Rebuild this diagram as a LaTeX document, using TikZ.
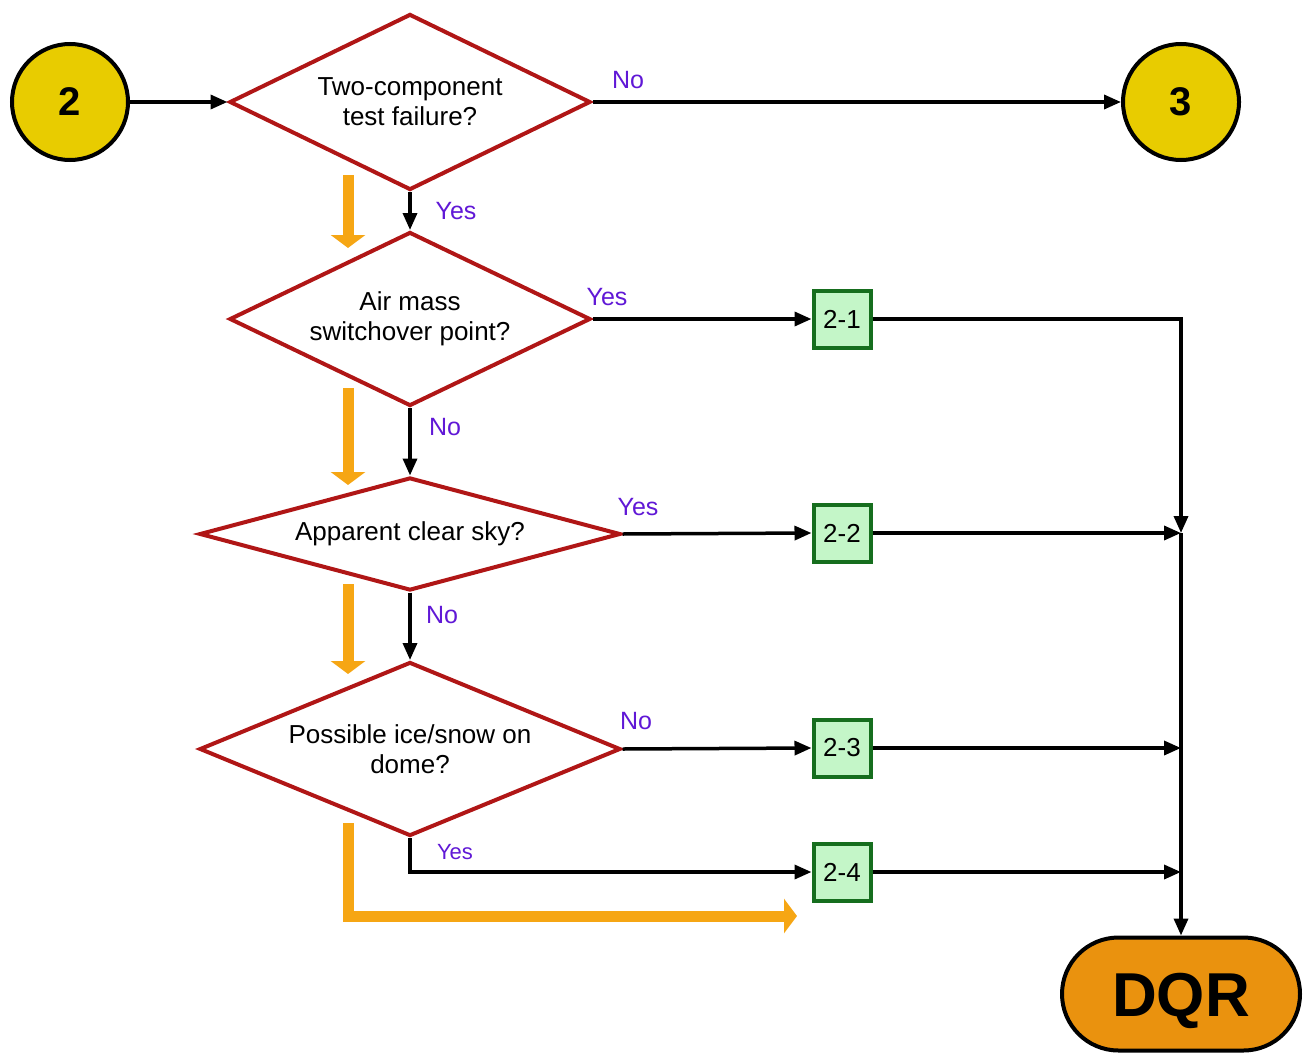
\documentclass[tikz,border=0pt]{standalone}
\usepackage{fontspec}
\setmainfont{Liberation Sans}
\usetikzlibrary{shapes.geometric,shapes.misc,arrows.meta}
\definecolor{dred}{RGB}{176,22,22}
\definecolor{cyel}{RGB}{232,204,0}
\definecolor{bgreen}{RGB}{196,246,200}
\definecolor{dgreen}{RGB}{22,110,30}
\definecolor{dqrorange}{RGB}{234,146,14}
\definecolor{flow}{RGB}{246,166,20}
\definecolor{lab}{RGB}{96,24,214}
\tikzset{
  decision/.style={shape=diamond, draw=dred, line width=4pt, fill=white, inner sep=0pt,
    aspect=2.4, align=center, font=\fontsize{26}{30}\selectfont},
  connector/.style={circle, draw=black, line width=4pt, fill=cyel, minimum size=116pt,
    inner sep=0pt, font=\fontsize{40}{44}\selectfont\bfseries},
  casebox/.style={rectangle, draw=dgreen, line width=4pt, fill=bgreen, minimum size=57pt,
    inner sep=0pt, font=\fontsize{26}{30}\selectfont},
  terminal/.style={rounded rectangle, draw=black, line width=4pt, fill=dqrorange,
    minimum width=238pt, minimum height=113pt, inner sep=0pt,
    text height=44pt, text depth=0pt,
    font=\fontsize{62}{66}\selectfont\bfseries},
  lbl/.style={text=lab, inner sep=0pt, font=\fontsize{25}{28}\selectfont},
  flowline/.style={line width=3.5pt, -{Triangle[length=17pt,width=14pt]}},
  orangearrow/.style={draw=flow, line width=11pt,
    -{Triangle[length=13pt,width=34pt]}}
}
\begin{document}
\begin{tikzpicture}[x=1pt,y=-1pt]
\useasboundingbox (0,0) rectangle (1305,1057);
% nodes
\node[connector] (c2) at (70,102) {2};
\node[connector] (c3) at (1181,102) {3};
\node[decision, minimum width=361pt, minimum height=176pt] (d1) at (410,102) {Two-component\\test failure?};
\node[decision, minimum width=361pt, minimum height=174pt] (d2) at (410,319) {Air mass\\switchover point?};
\node[decision, aspect=3.6, minimum width=421pt, minimum height=113pt] (d3) at (410,534) {Apparent clear sky?};
\node[decision, minimum width=421pt, minimum height=174pt] (d4) at (410,749) {Possible ice/snow on\\dome?};
\node[casebox] (b1) at (842,319) {2-1};
\node[casebox] (b2) at (842,533) {2-2};
\node[casebox] (b3) at (842,748) {2-3};
\node[casebox] (b4) at (842,872) {2-4};
\node[terminal] (dqr) at (1181,994) {DQR};
\coordinate (j2) at (1181,533);
\coordinate (j3) at (1181,748);
\coordinate (j4) at (1181,872);
% labels
\node[lbl] (l1) at (628,80) {No};
\node[lbl] (l2) at (456,211) {Yes};
\node[lbl] (l3) at (607,297) {Yes};
\node[lbl] (l4) at (445,427) {No};
\node[lbl] (l5) at (638,507) {Yes};
\node[lbl] (l6) at (442,615) {No};
\node[lbl] (l7) at (636,721) {No};
\node[lbl, font=\fontsize{22}{26}\selectfont] (l8) at (455,852) {Yes};
% connectors
\draw[flowline] (c2) -- (d1.west);
\draw[flowline] (d1.east) -- (c3.west);
\draw[flowline] (d1.south) -- (d2.north);
\draw[flowline] (d2.east) -- (b1.west);
\draw[flowline] (d2.south) -- (d3.north);
\draw[flowline] (d3.east) -- (b2.west);
\draw[flowline] (d3.south) -- (d4.north);
\draw[flowline] (d4.east) -- (b3.west);
\draw[flowline] (d4.south) |- (b4.west);
\draw[flowline] (b1.east) -| (j2);
\draw[flowline] (b2.east) -- (j2);
\draw[flowline] (j2) -- (dqr.north);
\draw[flowline] (b3.east) -- (j3);
\draw[flowline] (b4.east) -- (j4);
% orange flow arrows
\coordinate (o1a) at (348,175);
\coordinate (o1b) at (348,248);
\coordinate (o2a) at (348,388);
\coordinate (o2b) at (348,485);
\coordinate (o3a) at (348,584);
\coordinate (o3b) at (348,674);
\coordinate (o4a) at (348,823);
\coordinate (o4b) at (797,916);
\draw[orangearrow] (o1a) -- (o1b);
\draw[orangearrow] (o2a) -- (o2b);
\draw[orangearrow] (o3a) -- (o3b);
\draw[orangearrow] (o4a) |- (o4b);
\end{tikzpicture}
\end{document}
